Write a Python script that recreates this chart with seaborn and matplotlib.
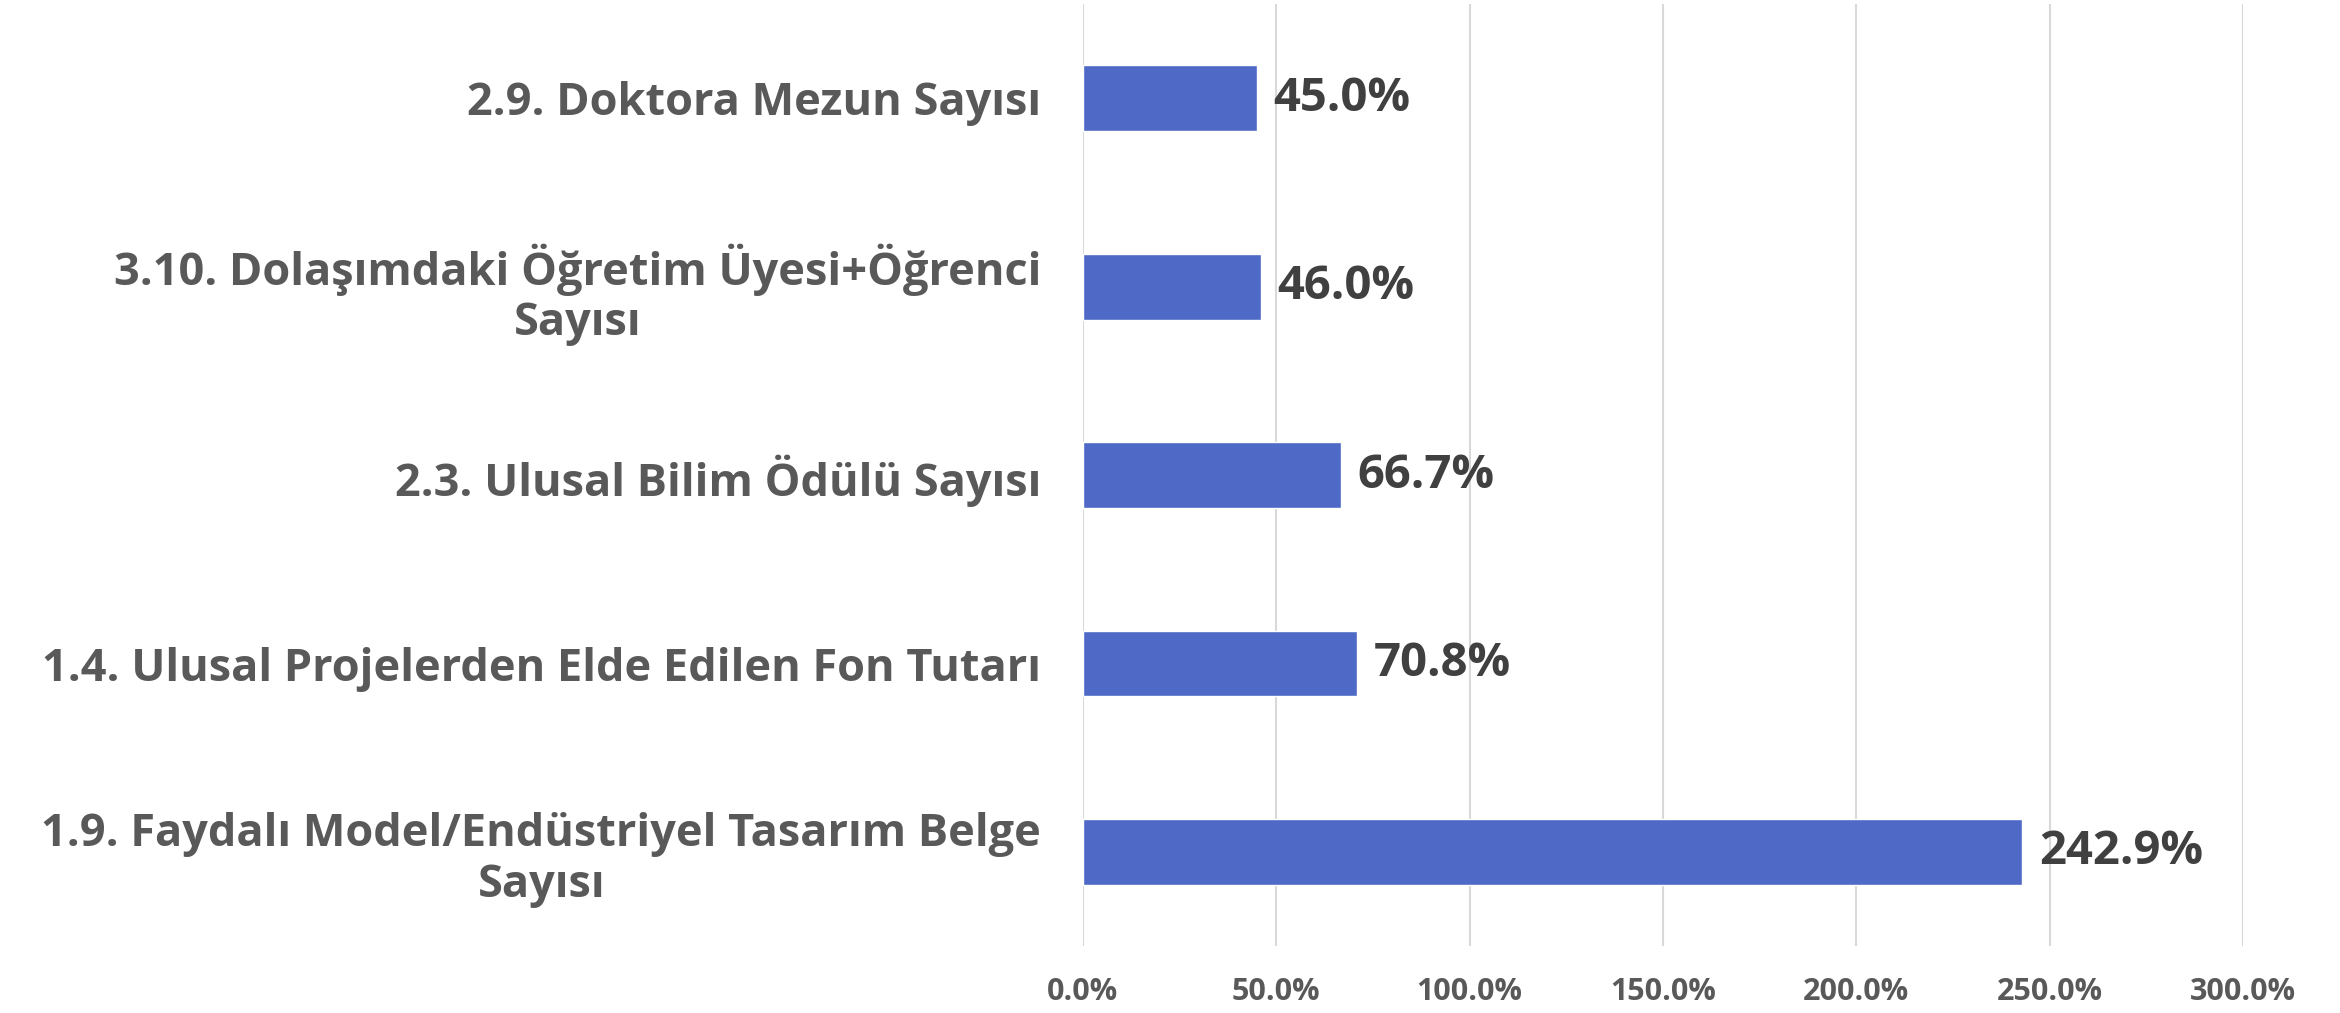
import pandas as pd
import matplotlib.pyplot as plt
import seaborn as sns
from matplotlib.ticker import PercentFormatter

#-------------------------------------------------------------------------------
#   data
#-------------------------------------------------------------------------------
categories = [
    "2.9. Doktora Mezun Sayısı",
    "3.10. Dolaşımdaki Öğretim Üyesi+Öğrenci\nSayısı",
    "2.3. Ulusal Bilim Ödülü Sayısı",
    "1.4. Ulusal Projelerden Elde Edilen Fon Tutarı",
    "1.9. Faydalı Model/Endüstriyel Tasarım Belge\nSayısı",
]
values = [45.0, 46.0, 66.7, 70.8, 242.9]
x_ticks = [0, 50, 100, 150, 200, 250, 300]

df = pd.DataFrame({"kategori": categories, "oran": values})

sns.set_theme(style="white")
plt.rcParams['font.family'] = ['Open Sans', 'DejaVu Sans']

fig = plt.figure(figsize=(23.4, 10.13), dpi=100)
ax = fig.add_axes([0.4628, 0.066, 0.4957, 0.930])

sns.barplot(data=df, x="oran", y="kategori", orient="h", color="#4F69C6",
            width=0.35, saturation=1, ax=ax)

ax.set_xlim(0, 300)
ax.set_xticks(x_ticks)
ax.xaxis.set_major_formatter(PercentFormatter(decimals=1))
ax.grid(axis="x", color="#D9D9D9", linewidth=1.5)
ax.set_axisbelow(True)
for s in ax.spines.values():
    s.set_visible(False)
ax.set_xlabel("")
ax.set_ylabel("")

ax.tick_params(axis="x", length=0, pad=22, labelsize=22, labelcolor="#595959")
ax.tick_params(axis="y", length=0, pad=30, labelsize=32.5, labelcolor="#595959")
for lbl in ax.get_xticklabels():
    lbl.set_fontweight("bold")
for lbl in ax.get_yticklabels():
    lbl.set_fontweight("bold")
    lbl.set_multialignment("center")
    lbl.set_linespacing(1.15)

ax.bar_label(ax.containers[0], labels=[f"{v:.1f}%" for v in values],
             padding=12, fontsize=34, fontweight="bold", color="#404040")

fig.savefig("out.png", dpi=100)
